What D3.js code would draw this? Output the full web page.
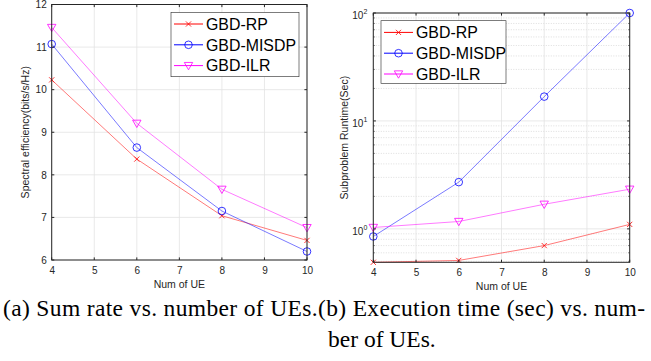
<!DOCTYPE html>
<html><head><meta charset="utf-8">
<script src="https://cdn.jsdelivr.net/npm/d3@7"></script>
<style>body{margin:0;background:#fff}svg{display:block}</style>
</head><body>
<svg id="c" width="651" height="361"></svg>
<script>
const ues = [4, 6, 8, 10];
const seriesNames = ["GBD-RP", "GBD-MISDP", "GBD-ILR"];
const seriesColors = ["#ff0000", "#0000ff", "#ff00ff"];
const seriesMarkers = ["x", "o", "v"];
// (a) spectral efficiency
const rateRP = [10.23, 8.37, 7.04, 6.46];
const rateMISDP = [11.07, 8.64, 7.15, 6.20];
const rateILR = [11.46, 9.21, 7.66, 6.76];
// (b) runtime (sec)
const timeRP = [0.49, 0.51, 0.70, 1.10];
const timeMISDP = [0.85, 2.71, 16.8, 100];
const timeILR = [1.03, 1.17, 1.69, 2.33];
const xTicks = [4, 5, 6, 7, 8, 9, 10];
const yTicksA = [6, 7, 8, 9, 10, 11, 12];
const yTicksB = [1, 10, 100];
const xLabel = "Num of UE";
const yLabelA = "Spectral efficiency(bits/s/Hz)";
const yLabelB = "Subproblem Runtime(Sec)";
const captionLine1 = "(a) Sum rate vs. number of UEs.(b) Execution time (sec) vs. num-";
const captionLine2 = "ber of UEs.";

const svg = d3.select("#c");
const AX = "#262626";
const FONT = "'Liberation Sans', Arial, Helvetica, sans-serif";
const SERIF = "'Liberation Serif', 'Times New Roman', serif";

function marker(g, type, x, y, color) {
  if (type === "x") {
    const s = 2.6;
    g.append("path").attr("d", `M${x-s},${y-s}L${x+s},${y+s}M${x-s},${y+s}L${x+s},${y-s}`)
      .attr("stroke", color).attr("stroke-width", 0.8).attr("fill", "none");
  } else if (type === "o") {
    g.append("circle").attr("cx", x).attr("cy", y).attr("r", 3.8)
      .attr("stroke", color).attr("stroke-width", 0.8).attr("fill", "none");
  } else {
    const s = 4.2;
    g.append("path").attr("d", `M${x-s},${y-s*0.75}L${x+s},${y-s*0.75}L${x},${y+s}Z`)
      .attr("stroke", color).attr("stroke-width", 0.8).attr("fill", "none");
  }
}

function panel(opts) {
  const {x, y, data, yTicks, log, legend, yLabel, yLabelX, minor} = opts;
  const g = svg.append("g");
  const [x0, x1] = x.range();
  const [y0, y1] = y.range();
  if (minor) {
    minor.forEach(v => {
      g.append("line").attr("x1", x0).attr("x2", x1).attr("y1", y(v)).attr("y2", y(v))
        .attr("stroke", "#c8c8c8").attr("stroke-width", 0.6).attr("stroke-dasharray", "1,1.5");
    });
  }
  xTicks.forEach(v => g.append("line").attr("x1", x(v)).attr("x2", x(v)).attr("y1", y0).attr("y2", y1)
    .attr("stroke", "#e3e3e3").attr("stroke-width", 0.8));
  yTicks.forEach(v => g.append("line").attr("x1", x0).attr("x2", x1).attr("y1", y(v)).attr("y2", y(v))
    .attr("stroke", "#e3e3e3").attr("stroke-width", 0.8));
  const line = d3.line().x((d, i) => x(ues[i])).y(d => y(d));
  data.forEach((vals, si) => {
    g.append("path").attr("d", line(vals)).attr("fill", "none")
      .attr("stroke", seriesColors[si]).attr("stroke-width", 0.7).attr("opacity", 0.75);
    vals.forEach((v, i) => marker(g, seriesMarkers[si], x(ues[i]), y(v), seriesColors[si]));
  });
  const xAxis = d3.axisBottom(x).tickValues(xTicks).tickSize(0).tickPadding(7).tickFormat(d3.format("d"));
  const gx = g.append("g").attr("transform", `translate(0,${y0})`).call(xAxis);
  gx.select(".domain").remove();
  gx.selectAll("text").attr("font-family", FONT).attr("font-size", 10).attr("fill", AX);
  const yAxis = d3.axisLeft(y).tickValues(yTicks).tickSize(0).tickPadding(5)
    .tickFormat(log ? (() => "") : d3.format("d"));
  const gy = g.append("g").attr("transform", `translate(${x0},0)`).call(yAxis);
  gy.select(".domain").remove();
  gy.selectAll("text").attr("font-family", FONT).attr("font-size", 10).attr("fill", AX);
  if (log) {
    gy.selectAll(".tick text").each(function(d) {
      const t = d3.select(this);
      t.text("");
      t.append("tspan").text("10");
      t.append("tspan").attr("dy", -5).attr("font-size", 7).text(Math.round(Math.log10(d)));
    }).attr("dx", -1).attr("dy", "0.55em");
  }
  xTicks.forEach(v => {
    g.append("line").attr("x1", x(v)).attr("x2", x(v)).attr("y1", y0).attr("y2", y0 - 2.6).attr("stroke", AX);
    g.append("line").attr("x1", x(v)).attr("x2", x(v)).attr("y1", y1).attr("y2", y1 + 2.6).attr("stroke", AX);
  });
  yTicks.forEach(v => {
    g.append("line").attr("x1", x0).attr("x2", x0 + 2.6).attr("y1", y(v)).attr("y2", y(v)).attr("stroke", AX);
    g.append("line").attr("x1", x1).attr("x2", x1 - 2.6).attr("y1", y(v)).attr("y2", y(v)).attr("stroke", AX);
  });
  if (minor) minor.forEach(v => {
    g.append("line").attr("x1", x0).attr("x2", x0 + 1.5).attr("y1", y(v)).attr("y2", y(v)).attr("stroke", AX).attr("stroke-width", 0.6);
    g.append("line").attr("x1", x1).attr("x2", x1 - 1.5).attr("y1", y(v)).attr("y2", y(v)).attr("stroke", AX).attr("stroke-width", 0.6);
  });
  g.append("rect").attr("x", x0).attr("y", y1).attr("width", x1 - x0).attr("height", y0 - y1)
    .attr("fill", "none").attr("stroke", AX).attr("stroke-width", 1);
  g.append("text").attr("x", (x0 + x1) / 2).attr("y", y0 + 28).attr("text-anchor", "middle")
    .attr("font-family", FONT).attr("font-size", 10.5).attr("fill", AX).text(xLabel);
  g.append("text").attr("transform", `translate(${yLabelX},${(y0 + y1) / 2}) rotate(-90)`)
    .attr("text-anchor", "middle").attr("font-family", FONT).attr("font-size", 10.5).attr("fill", AX).text(yLabel);
  const lg = g.append("g");
  lg.append("rect").attr("x", legend.x).attr("y", legend.y).attr("width", legend.w).attr("height", legend.h)
    .attr("fill", "#fff").attr("stroke", AX).attr("stroke-width", 0.6);
  const texts = [];
  seriesNames.forEach((n, i) => {
    const ly = legend.y + 11.7 + i * 20.8;
    lg.append("line").attr("x1", legend.x + 3).attr("x2", legend.x + 32).attr("y1", ly).attr("y2", ly)
      .attr("stroke", seriesColors[i]).attr("stroke-width", 1);
    marker(lg, seriesMarkers[i], legend.x + 17.5, ly, seriesColors[i]);
    texts.push(lg.append("text").attr("x", legend.x + 35).attr("y", ly).attr("dy", "0.36em")
      .attr("font-family", FONT).attr("font-size", 16).attr("fill", "#000").text(n));
  });
  const w = texts[1].node().getComputedTextLength();
  if (w > 0) {
    const fs = Math.max(14, Math.min(18, 16 * 90 / w));
    texts.forEach(t => t.attr("font-size", fs));
  }
}

panel({
  x: d3.scaleLinear().domain([4, 10]).range([51.7, 307]),
  y: d3.scaleLinear().domain([6, 12]).range([260, 4.5]),
  data: [rateRP, rateMISDP, rateILR],
  yTicks: yTicksA, log: false,
  legend: {x: 171, y: 12.3, w: 128, h: 64.4},
  yLabel: yLabelA, yLabelX: 29
});

const minorB = [];
[0.1, 1, 10].forEach(d => [2,3,4,5,6,7,8,9].forEach(k => { const v = d * k; if (v > 0.49 && v < 100) minorB.push(v); }));
panel({
  x: d3.scaleLinear().domain([4, 10]).range([373.3, 629.7]),
  y: d3.scaleLog().domain([0.49, 100]).range([262.3, 13]),
  data: [timeRP, timeMISDP, timeILR],
  yTicks: yTicksB, log: true, minor: minorB,
  legend: {x: 381, y: 20.7, w: 125, h: 62.6},
  yLabel: yLabelB, yLabelX: 348
});

svg.append("text").attr("x", 3).attr("y", 316).attr("font-family", SERIF)
  .attr("font-size", 23.5).attr("fill", "#000")
  .attr("textLength", 642).attr("lengthAdjust", "spacing").text(captionLine1);
svg.append("text").attr("x", 328).attr("y", 347).attr("font-family", SERIF)
  .attr("font-size", 23.5).attr("fill", "#000").text(captionLine2);
</script>
</body></html>
